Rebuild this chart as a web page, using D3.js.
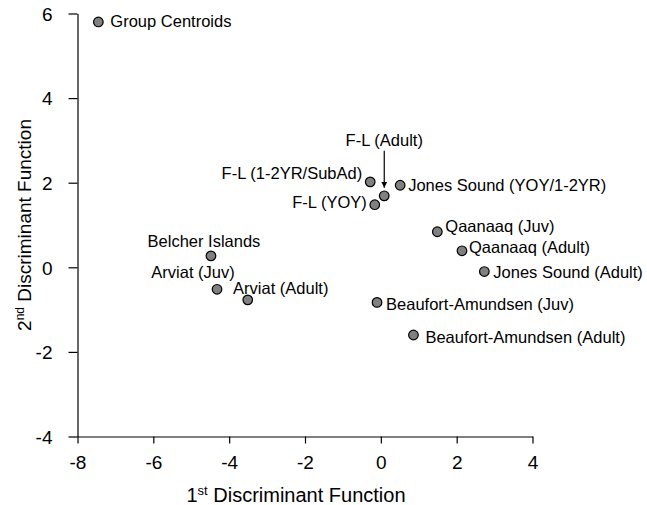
<!DOCTYPE html>
<html>
<head>
<meta charset="utf-8">
<script src="https://cdn.jsdelivr.net/npm/d3@7"></script>
<style>
  body { margin: 0; background: #fff; }
  text { font-family: "Liberation Sans", Arial, sans-serif; fill: #000; }
</style>
</head>
<body>
<svg width="647" height="505"></svg>
<script>
var width = 647,
    height = 505;

// groups and their discriminant scores
var groups = ["Group Centroids", "F-L (Adult)", "F-L (1-2YR/SubAd)", "Jones Sound (YOY/1-2YR)",
    "F-L (YOY)", "Qaanaaq (Juv)", "Qaanaaq (Adult)", "Jones Sound (Adult)",
    "Beaufort-Amundsen (Juv)", "Beaufort-Amundsen (Adult)", "Belcher Islands",
    "Arviat (Juv)", "Arviat (Adult)"];
var df1 = [-7.45, 0.09, -0.28, 0.51, -0.16, 1.49, 2.14, 2.73, -0.10, 0.86, -4.48, -4.32, -3.51];
var df2 = [5.80, 1.69, 2.02, 1.94, 1.48, 0.84, 0.39, -0.10, -0.83, -1.60, 0.27, -0.52, -0.77];

var xTicks = [-8, -6, -4, -2, 0, 2, 4];
var yTicks = [-4, -2, 0, 2, 4, 6];

// label placement: [anchor, dx, dy] relative to the point
var labelPos = {
    "Group Centroids": ["start", 12, 5],
    "F-L (Adult)": ["middle", 0, -50],
    "F-L (1-2YR/SubAd)": ["end", -8, -3],
    "Jones Sound (YOY/1-2YR)": ["start", 8, 6],
    "F-L (YOY)": ["end", -8, 3],
    "Qaanaaq (Juv)": ["start", 8, 0],
    "Qaanaaq (Adult)": ["start", 7, 2],
    "Jones Sound (Adult)": ["start", 9, 6],
    "Beaufort-Amundsen (Juv)": ["start", 9, 8],
    "Beaufort-Amundsen (Adult)": ["start", 12, 8],
    "Belcher Islands": ["middle", -7, -9],
    "Arviat (Juv)": ["middle", -24, -11],
    "Arviat (Adult)": ["middle", 33, -6]
};

var points = groups.map(function (g, i) {
    return { name: g, x: df1[i], y: df2[i] };
});

var x = d3.scaleLinear().domain([-8, 4]).range([77.5, 532.5]);
var y = d3.scaleLinear().domain([-4, 6]).range([436.5, 13.5]);

var svg = d3.select("svg");

// axes
var xAxis = svg.append("g")
    .attr("transform", "translate(0," + y(-4) + ")")
    .call(d3.axisBottom(x).tickValues(xTicks).tickSize(7).tickPadding(12).tickSizeOuter(0));
var yAxis = svg.append("g")
    .attr("transform", "translate(" + x(-8) + ",0)")
    .call(d3.axisLeft(y).tickValues(yTicks).tickSize(9).tickPadding(16).tickSizeOuter(0));

[xAxis, yAxis].forEach(function (a) {
    a.select(".domain").attr("stroke", "#000").attr("stroke-width", 1.2);
    a.selectAll(".tick line").attr("stroke", "#000").attr("stroke-width", 1.2);
    a.selectAll(".tick text")
        .style("font-family", "'Liberation Sans', Arial, sans-serif")
        .style("font-size", "19px")
        .attr("fill", "#000")
        .text(function (d) { return d; });
});
yAxis.selectAll(".tick text").attr("dy", "0.36em");

// axis titles
var xt = svg.append("text")
    .attr("x", 296)
    .attr("y", 502)
    .attr("text-anchor", "middle")
    .style("font-size", "20px");
xt.append("tspan").text("1");
xt.append("tspan").text("st").style("font-size", "13px").attr("dy", -7);
xt.append("tspan").text(" Discriminant Function").attr("dy", 7);

var yt = svg.append("text")
    .attr("transform", "translate(31," + (y(6) + y(-4)) / 2 + ") rotate(-90)")
    .attr("text-anchor", "middle")
    .style("font-size", "19px");
yt.append("tspan").text("2");
yt.append("tspan").text("nd").style("font-size", "12px").attr("dy", -7);
yt.append("tspan").text(" Discriminant Function").attr("dy", 7);

// arrow for F-L (Adult)
svg.append("defs").append("marker")
    .attr("id", "head")
    .attr("viewBox", "0 0 10 10")
    .attr("refX", 10).attr("refY", 5)
    .attr("markerWidth", 6).attr("markerHeight", 9)
    .attr("markerUnits", "userSpaceOnUse")
    .attr("orient", "auto")
    .append("path").attr("d", "M0,0L10,5L0,10Z").attr("fill", "#000");

var fl = points[1];
svg.append("line")
    .attr("x1", x(fl.x)).attr("x2", x(fl.x))
    .attr("y1", y(fl.y) - 45).attr("y2", y(fl.y) - 8)
    .attr("stroke", "#000").attr("stroke-width", 1.2)
    .attr("marker-end", "url(#head)");

// points
svg.append("g").selectAll("circle")
    .data(points)
    .join("circle")
    .attr("cx", function (d) { return x(d.x); })
    .attr("cy", function (d) { return y(d.y); })
    .attr("r", 4.8)
    .attr("fill", "#808080")
    .attr("stroke", "#000")
    .attr("stroke-width", 1.2);

// labels
svg.append("g").selectAll("text")
    .data(points)
    .join("text")
    .attr("x", function (d) { return x(d.x) + labelPos[d.name][1]; })
    .attr("y", function (d) { return y(d.y) + labelPos[d.name][2]; })
    .attr("text-anchor", function (d) { return labelPos[d.name][0]; })
    .style("font-size", "16.5px")
    .text(function (d) { return d.name; });
</script>
</body>
</html>
